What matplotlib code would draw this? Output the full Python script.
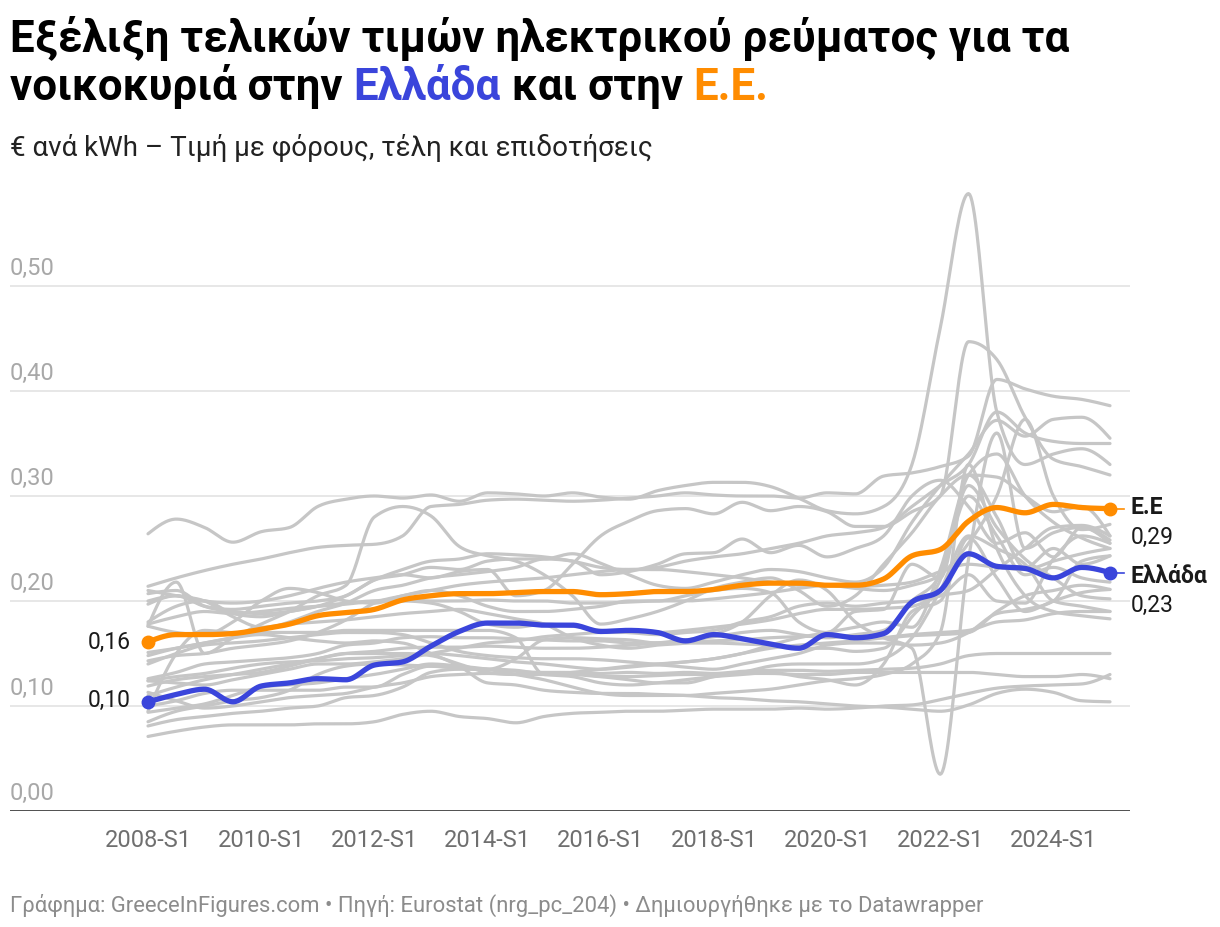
import numpy as np
import matplotlib.pyplot as plt

plt.rcParams['font.family'] = ['Roboto', 'DejaVu Sans']

W, H = 1220, 928

# semesters 2008-S1 ... 2025-S1
n_sem = 35
tick_pos = [0, 4, 8, 12, 16, 20, 24, 28, 32]
tick_labels = ['2008-S1', '2010-S1', '2012-S1', '2014-S1', '2016-S1',
               '2018-S1', '2020-S1', '2022-S1', '2024-S1']
y_ticks = [0.0, 0.1, 0.2, 0.3, 0.4, 0.5]
y_labels = ['0,00', '0,10', '0,20', '0,30', '0,40', '0,50']

# highlighted series (EUR per kWh)
greece = [0.104, 0.111, 0.116, 0.104, 0.119, 0.122, 0.126, 0.125, 0.139, 0.142,
          0.157, 0.171, 0.179, 0.179, 0.177, 0.177, 0.171, 0.172, 0.170, 0.162,
          0.168, 0.164, 0.159, 0.155, 0.168, 0.165, 0.169, 0.199, 0.210, 0.245,
          0.233, 0.231, 0.222, 0.232, 0.227]
eu = [0.161, 0.168, 0.168, 0.169, 0.173, 0.178, 0.186, 0.189, 0.192, 0.201,
      0.205, 0.207, 0.207, 0.208, 0.209, 0.209, 0.206, 0.207, 0.209, 0.209,
      0.211, 0.215, 0.217, 0.217, 0.215, 0.215, 0.221, 0.243, 0.249, 0.276,
      0.289, 0.284, 0.292, 0.289, 0.288]

# other member states (grey)
dk = [0.264, 0.278, 0.270, 0.256, 0.266, 0.270, 0.290, 0.297, 0.300, 0.298,
      0.301, 0.295, 0.303, 0.302, 0.300, 0.303, 0.299, 0.297, 0.305, 0.310,
      0.313, 0.313, 0.309, 0.298, 0.286, 0.283, 0.290, 0.330, 0.460, 0.588,
      0.380, 0.330, 0.340, 0.345, 0.330]
de = [0.214, 0.222, 0.229, 0.235, 0.240, 0.246, 0.251, 0.253, 0.254, 0.262,
      0.290, 0.292, 0.296, 0.297, 0.296, 0.295, 0.296, 0.298, 0.300, 0.303,
      0.301, 0.300, 0.300, 0.298, 0.303, 0.302, 0.319, 0.322, 0.328, 0.338,
      0.411, 0.402, 0.395, 0.392, 0.386]
cy = [0.176, 0.218, 0.150, 0.165, 0.178, 0.190, 0.205, 0.215, 0.280, 0.290,
      0.281, 0.252, 0.243, 0.238, 0.225, 0.205, 0.178, 0.183, 0.190, 0.200,
      0.212, 0.218, 0.222, 0.210, 0.195, 0.205, 0.235, 0.265, 0.300, 0.320,
      0.318, 0.300, 0.285, 0.290, 0.262]
be = [0.197, 0.205, 0.200, 0.198, 0.200, 0.205, 0.212, 0.218, 0.222, 0.225,
      0.222, 0.228, 0.230, 0.205, 0.210, 0.235, 0.262, 0.276, 0.286, 0.288,
      0.283, 0.294, 0.286, 0.290, 0.285, 0.271, 0.271, 0.285, 0.300, 0.447,
      0.430, 0.375, 0.335, 0.328, 0.320]
it = [0.200, 0.205, 0.195, 0.192, 0.195, 0.198, 0.200, 0.205, 0.220, 0.225,
      0.232, 0.230, 0.238, 0.240, 0.240, 0.245, 0.236, 0.225, 0.215, 0.212,
      0.218, 0.225, 0.230, 0.228, 0.222, 0.218, 0.232, 0.275, 0.310, 0.340,
      0.372, 0.357, 0.373, 0.375, 0.355]
ie = [0.180, 0.195, 0.200, 0.188, 0.185, 0.190, 0.195, 0.205, 0.220, 0.230,
      0.238, 0.240, 0.245, 0.244, 0.242, 0.238, 0.232, 0.230, 0.232, 0.238,
      0.242, 0.245, 0.250, 0.255, 0.262, 0.265, 0.270, 0.290, 0.310, 0.330,
      0.380, 0.360, 0.352, 0.350, 0.350]
bg = [0.071, 0.076, 0.080, 0.082, 0.082, 0.082, 0.083, 0.083, 0.085, 0.092,
      0.095, 0.090, 0.088, 0.084, 0.090, 0.093, 0.094, 0.095, 0.095, 0.096,
      0.097, 0.097, 0.097, 0.098, 0.097, 0.098, 0.100, 0.101, 0.106, 0.112,
      0.117, 0.119, 0.120, 0.121, 0.130]
hu = [0.148, 0.155, 0.160, 0.165, 0.168, 0.165, 0.162, 0.160, 0.162, 0.160,
      0.150, 0.138, 0.122, 0.120, 0.115, 0.113, 0.112, 0.112, 0.111, 0.110,
      0.108, 0.107, 0.105, 0.104, 0.102, 0.100, 0.099, 0.097, 0.095, 0.101,
      0.112, 0.116, 0.113, 0.105, 0.104]
mt = [0.095, 0.150, 0.172, 0.170, 0.170, 0.170, 0.170, 0.172, 0.172, 0.172,
      0.172, 0.172, 0.172, 0.165, 0.130, 0.130, 0.128, 0.128, 0.129, 0.130,
      0.130, 0.131, 0.131, 0.130, 0.130, 0.132, 0.132, 0.132, 0.132, 0.132,
      0.130, 0.128, 0.128, 0.130, 0.126]
hr = [0.100, 0.105, 0.112, 0.115, 0.115, 0.115, 0.115, 0.118, 0.118, 0.130,
      0.138, 0.136, 0.135, 0.133, 0.132, 0.132, 0.131, 0.132, 0.131, 0.132,
      0.131, 0.133, 0.134, 0.134, 0.133, 0.134, 0.135, 0.136, 0.140, 0.148,
      0.150, 0.150, 0.150, 0.150, 0.150]
ee = [0.081, 0.087, 0.090, 0.093, 0.095, 0.098, 0.100, 0.108, 0.110, 0.118,
      0.132, 0.135, 0.135, 0.134, 0.130, 0.128, 0.122, 0.120, 0.122, 0.125,
      0.128, 0.130, 0.132, 0.128, 0.125, 0.120, 0.140, 0.190, 0.200, 0.260,
      0.222, 0.190, 0.200, 0.208, 0.211]
lv = [0.085, 0.095, 0.100, 0.105, 0.108, 0.115, 0.130, 0.138, 0.140, 0.139,
      0.138, 0.136, 0.135, 0.145, 0.163, 0.165, 0.164, 0.163, 0.160, 0.160,
      0.160, 0.159, 0.158, 0.155, 0.155, 0.152, 0.155, 0.185, 0.220, 0.310,
      0.270, 0.240, 0.222, 0.205, 0.202]
lt = [0.094, 0.098, 0.102, 0.110, 0.118, 0.120, 0.122, 0.126, 0.130, 0.135,
      0.140, 0.138, 0.135, 0.130, 0.125, 0.118, 0.112, 0.110, 0.110, 0.110,
      0.112, 0.114, 0.116, 0.120, 0.124, 0.126, 0.130, 0.140, 0.170, 0.330,
      0.250, 0.205, 0.190, 0.186, 0.183]
ro = [0.113, 0.105, 0.098, 0.100, 0.104, 0.108, 0.110, 0.112, 0.118, 0.122,
      0.128, 0.130, 0.131, 0.130, 0.130, 0.131, 0.128, 0.125, 0.122, 0.122,
      0.128, 0.132, 0.138, 0.140, 0.140, 0.140, 0.145, 0.165, 0.210, 0.262,
      0.250, 0.235, 0.200, 0.195, 0.190]
pl = [0.124, 0.128, 0.131, 0.136, 0.140, 0.142, 0.143, 0.145, 0.146, 0.148,
      0.150, 0.148, 0.145, 0.142, 0.140, 0.137, 0.135, 0.137, 0.139, 0.137,
      0.135, 0.140, 0.145, 0.150, 0.158, 0.160, 0.160, 0.158, 0.160, 0.170,
      0.188, 0.192, 0.200, 0.238, 0.243]
fi = [0.119, 0.125, 0.128, 0.130, 0.132, 0.138, 0.145, 0.150, 0.152, 0.155,
      0.156, 0.156, 0.157, 0.156, 0.155, 0.155, 0.156, 0.158, 0.160, 0.163,
      0.166, 0.170, 0.172, 0.168, 0.165, 0.168, 0.172, 0.200, 0.225, 0.300,
      0.262, 0.225, 0.232, 0.222, 0.218]
fr = [0.124, 0.122, 0.120, 0.125, 0.130, 0.135, 0.140, 0.140, 0.142, 0.145,
      0.150, 0.155, 0.160, 0.162, 0.166, 0.168, 0.170, 0.170, 0.170, 0.172,
      0.175, 0.178, 0.182, 0.188, 0.192, 0.192, 0.193, 0.195, 0.205, 0.210,
      0.230, 0.250, 0.270, 0.272, 0.262]
si = [0.126, 0.132, 0.140, 0.142, 0.144, 0.146, 0.150, 0.158, 0.160, 0.165,
      0.166, 0.165, 0.165, 0.164, 0.163, 0.162, 0.162, 0.160, 0.160, 0.161,
      0.162, 0.163, 0.165, 0.166, 0.167, 0.165, 0.165, 0.167, 0.168, 0.170,
      0.190, 0.205, 0.210, 0.215, 0.211]
es = [0.151, 0.155, 0.160, 0.165, 0.172, 0.180, 0.190, 0.198, 0.210, 0.215,
      0.222, 0.225, 0.228, 0.232, 0.240, 0.238, 0.225, 0.228, 0.235, 0.245,
      0.246, 0.259, 0.246, 0.253, 0.242, 0.250, 0.262, 0.300, 0.315, 0.290,
      0.255, 0.265, 0.242, 0.270, 0.255]
pt = [0.143, 0.148, 0.150, 0.155, 0.158, 0.162, 0.170, 0.182, 0.198, 0.205,
      0.210, 0.215, 0.218, 0.220, 0.222, 0.225, 0.228, 0.230, 0.230, 0.228,
      0.225, 0.222, 0.218, 0.215, 0.215, 0.214, 0.215, 0.218, 0.228, 0.235,
      0.232, 0.230, 0.238, 0.245, 0.250]
at = [0.178, 0.185, 0.190, 0.188, 0.190, 0.193, 0.195, 0.197, 0.200, 0.202,
      0.200, 0.200, 0.201, 0.200, 0.200, 0.198, 0.198, 0.199, 0.200, 0.200,
      0.202, 0.205, 0.208, 0.212, 0.215, 0.212, 0.210, 0.215, 0.225, 0.255,
      0.300, 0.373, 0.300, 0.268, 0.273]
nl = [0.210, 0.205, 0.200, 0.185, 0.175, 0.178, 0.180, 0.182, 0.185, 0.188,
      0.190, 0.192, 0.188, 0.183, 0.178, 0.165, 0.158, 0.155, 0.158, 0.160,
      0.168, 0.180, 0.205, 0.220, 0.210, 0.180, 0.165, 0.155, 0.035, 0.240,
      0.360, 0.250, 0.265, 0.270, 0.258]
se = [0.176, 0.170, 0.168, 0.180, 0.200, 0.212, 0.208, 0.200, 0.198, 0.205,
      0.210, 0.205, 0.195, 0.190, 0.190, 0.192, 0.195, 0.200, 0.200, 0.205,
      0.210, 0.212, 0.208, 0.180, 0.170, 0.190, 0.192, 0.235, 0.222, 0.320,
      0.280, 0.232, 0.250, 0.235, 0.243]
lu = [0.207, 0.210, 0.195, 0.190, 0.188, 0.190, 0.195, 0.198, 0.200, 0.200,
      0.198, 0.190, 0.178, 0.175, 0.178, 0.176, 0.172, 0.170, 0.168, 0.170,
      0.172, 0.180, 0.185, 0.195, 0.198, 0.195, 0.198, 0.200, 0.205, 0.225,
      0.200, 0.198, 0.240, 0.262, 0.255]
sk = [0.140, 0.150, 0.158, 0.160, 0.162, 0.165, 0.168, 0.170, 0.170, 0.168,
      0.160, 0.152, 0.148, 0.146, 0.145, 0.145, 0.144, 0.142, 0.140, 0.142,
      0.145, 0.150, 0.155, 0.158, 0.160, 0.162, 0.165, 0.168, 0.170, 0.172,
      0.180, 0.182, 0.188, 0.190, 0.190]
cz = [0.110, 0.118, 0.125, 0.130, 0.135, 0.140, 0.145, 0.150, 0.150, 0.150,
      0.148, 0.140, 0.132, 0.130, 0.130, 0.132, 0.135, 0.138, 0.140, 0.142,
      0.145, 0.150, 0.158, 0.165, 0.170, 0.175, 0.180, 0.175, 0.230, 0.320,
      0.340, 0.300, 0.275, 0.260, 0.250]

grey_lines = [dk, de, cy, be, it, ie, bg, hu, mt, hr, ee, lv, lt, ro, pl,
              fi, fr, si, es, pt, at, nl, se, lu, sk, cz]

BLUE = '#3a45db'
ORANGE = '#ff8c00'
GREY = '#c6c6c6'


def smooth(y, n=24):
    # monotone cubic curve through the points (like d3 curveMonotoneX)
    y = np.asarray(y, float)
    s = np.diff(y)
    t = np.zeros_like(y)
    for i in range(1, len(y) - 1):
        s0, s1 = s[i - 1], s[i]
        p = (s0 + s1) / 2
        t[i] = (np.sign(s0) + np.sign(s1)) * min(abs(s0), abs(s1), 0.5 * abs(p))
    t[0] = (3 * s[0] - t[1]) / 2
    t[-1] = (3 * s[-1] - t[-2]) / 2
    u = np.linspace(0, 1, n, endpoint=False)
    h00 = 2 * u**3 - 3 * u**2 + 1
    h10 = u**3 - 2 * u**2 + u
    h01 = -2 * u**3 + 3 * u**2
    h11 = u**3 - u**2
    xs, ys = [], []
    for i in range(len(y) - 1):
        xs.append(i + u)
        ys.append(h00 * y[i] + h10 * t[i] + h01 * y[i + 1] + h11 * t[i + 1])
    xs.append([len(y) - 1])
    ys.append([y[-1]])
    return np.concatenate(xs), np.concatenate(ys)


fig = plt.figure(figsize=(W / 100, H / 100), dpi=100)

# plot area: x=10..1130 px, y=182..812 px
unit = 962 / 34
ax = fig.add_axes([10 / W, (H - 812) / H, 1120 / W, 630 / H])
ax.set_xlim(-138 / unit, 34 + 20 / unit)
ax.set_ylim(0, 0.6)
for s in ax.spines.values():
    s.set_visible(False)
ax.set_yticks([])
ax.set_xticks(tick_pos)
ax.set_xticklabels(tick_labels)
ax.tick_params(axis='x', length=0, pad=12, labelsize=17, labelcolor='#6f6f6f')

for v, lab in zip(y_ticks, y_labels):
    if v > 0:
        ax.axhline(v, color='#e3e3e3', lw=1.2, zorder=0)
    ax.text(ax.get_xlim()[0], v + 0.007, lab, ha='left', va='bottom',
            fontsize=17, color='#a8a8a8')
ax.axhline(0, color='#1a1a1a', lw=1.8, zorder=5)

for series in grey_lines:
    xs, ys = smooth(series)
    ax.plot(xs, ys, color=GREY, lw=2.3, solid_capstyle='round', zorder=2,
            clip_on=False)

for series, col in [(eu, ORANGE), (greece, BLUE)]:
    xs, ys = smooth(series)
    ax.plot(xs, ys, color=col, lw=3.8, solid_capstyle='round', zorder=4)
    ax.plot([0, n_sem - 1], [series[0], series[-1]], 'o', color=col,
            ms=9, zorder=6, clip_on=False)
    ax.plot([n_sem - 1 + 7 / unit, n_sem - 1 + 14 / unit],
            [series[-1], series[-1]], color=col, lw=1.2, clip_on=False)

# start values
lab_kw = dict(fontsize=16.5, color='#1a1a1a', clip_on=False)
ax.text(-17 / unit, eu[0], '0,16', ha='right', va='center', **lab_kw)
ax.text(-17 / unit, greece[0] + 0.002, '0,10', ha='right', va='center', **lab_kw)

# end labels
xe = n_sem - 1 + 21 / unit
ax.text(xe, eu[-1] + 0.002, 'Ε.Ε', ha='left', va='center', fontweight='bold', **lab_kw)
ax.text(xe, eu[-1] - 0.027, '0,29', ha='left', va='center', **lab_kw)
ax.text(xe, greece[-1] - 0.003, 'Ελλάδα', ha='left', va='center', fontweight='bold', **lab_kw)
ax.text(xe, greece[-1] - 0.030, '0,23', ha='left', va='center', **lab_kw)

# title
title_kw = dict(fontsize=31.6, fontweight='bold', va='baseline')
fig.text(10 / W, 1 - 52 / H, 'Εξέλιξη τελικών τιμών ηλεκτρικού ρεύματος για τα',
         color='black', **title_kw)
renderer = fig.canvas.get_renderer()


def text_width(s):
    t = fig.text(0, 0, s, **title_kw)
    w = t.get_window_extent(renderer).width
    t.remove()
    return w


ref = text_width('Η')
xpos = 10
for part, col in [('νοικοκυριά στην ', 'black'), ('Ελλάδα', BLUE),
                  (' και στην ', 'black'), ('Ε.Ε.', ORANGE)]:
    fig.text(xpos / W, 1 - 100 / H, part, color=col, **title_kw)
    xpos += text_width(part + 'Η') - ref

fig.text(10 / W, 1 - 148 / H, '€ ανά kWh – Τιμή με φόρους, τέλη και επιδοτήσεις',
         fontsize=20, color='#222222', va='center')

fig.text(10 / W, 1 - 905 / H,
         'Γράφημα: GreeceInFigures.com • Πηγή: Eurostat (nrg_pc_204) • Δημιουργήθηκε με το Datawrapper',
         fontsize=15.8, color='#8c8c8c', va='center')

fig.savefig('out.png', dpi=100, facecolor='white')
